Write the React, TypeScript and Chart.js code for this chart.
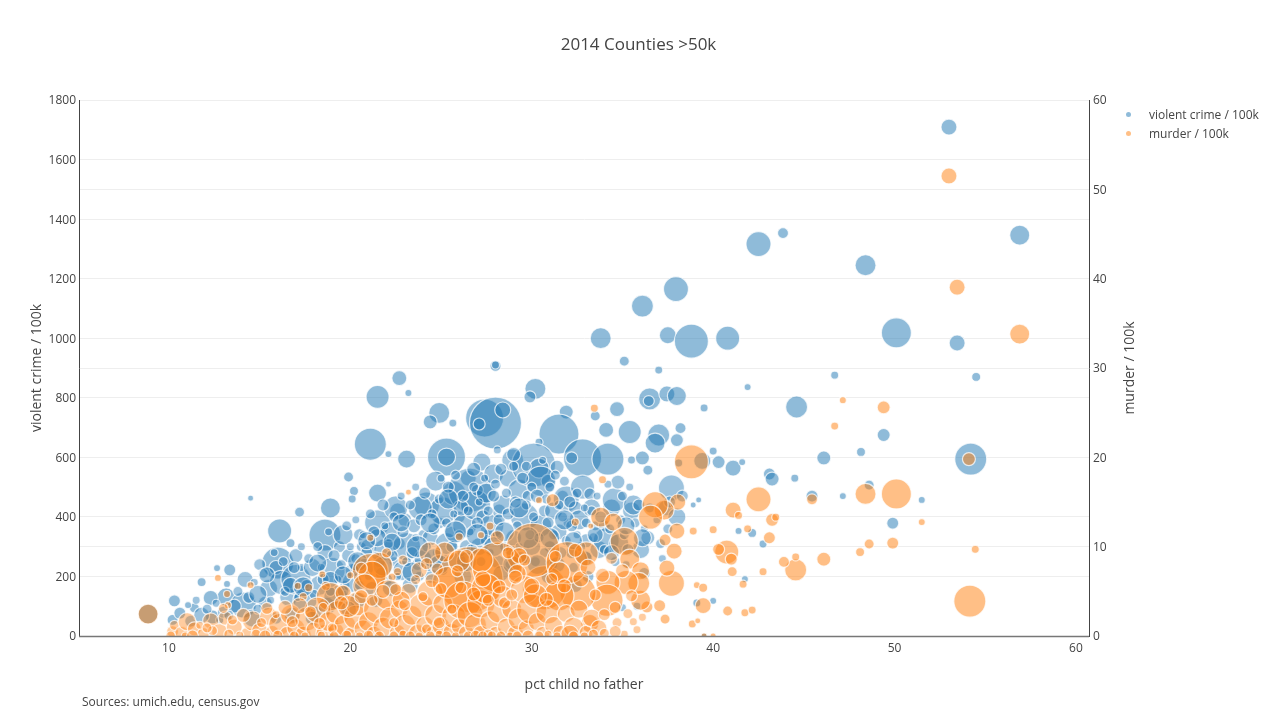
import React, { useEffect, useRef } from "react";
import { Chart, registerables } from "chart.js";

Chart.register(...registerables);

const chartTitle = "2014 Counties >50k";
const xTitle = "pct child no father";
const leftTitle = "violent crime / 100k";
const rightTitle = "murder / 100k";
const sourceNote = "Sources: umich.edu, census.gov";
const FONT = "'Open Sans', sans-serif";

// [pct child no father, violent crime per 100k, bubble size]
const violentOutliers = [
  [8.85,74,10],[53,1709,8],[56.9,1346,10],[43.85,1353,5.5],[42.5,1316,12.5],[48.4,1245,10.5],[37.95,1165,12.5],[36.1,1108,11],
  [33.8,1000,10.5],[37.5,1010,8.5],[38.8,990,17],[40.8,1000,12],[50.1,1018,15],[53.45,984,8],[54.5,870,4.5],[46.7,876,4],
  [41.9,836,3.5],[35.1,923,5],[37,893,4],[28,907,5.5],[28,910,4],[22.7,866,7.5],[21.5,803,11.5],[23.2,816,3.5],[30.2,830,10.5],
  [29.9,803,6],[36.5,796,11],[37.45,813,8],[38,806,9.5],[36.45,789,5.5],[39.5,766,4],[44.6,769,11],[34.7,762,7.5],[24.9,749,10.5],
  [24.4,719,7],[25.65,715,4],[27.4,732,19],[28,715,26],[27.1,712,6],[28.4,759,8],[31.9,752,7],[34.1,692,7.5],[33.5,739,5],
  [35.4,685,11.5],[37,675,11],[36.8,648,10],[38.2,698,5.5],[38,658,6.5],[21.1,644,16],[22.1,611,3.5],[23.1,594,9],[25.3,601,19],
  [25.3,601,9],[31.5,678,20],[32.8,598,19],[32.2,598,6],[34.2,594,16],[30.4,651,4],[36.1,598,7],[35.5,591,4],[36.4,557,5],
  [38.1,581,4],[39.4,588,8.5],[40,621,4],[40.3,584,6.5],[41.1,564,8],[41.6,584,3.5],[43.1,544,6],[43.25,527,7],[44.5,530,4],
  [46.1,598,7],[48.15,618,4.5],[49.4,675,6.5],[54.2,594,16],[48.6,507,5],[47.15,470,3.5],[45.45,470,6],[51.5,457,3.5],[49.9,379,6],
  [14.5,463,3],[19.9,534,5],[20.2,487,4.5],[20.1,460,4],[17.2,416,5],[16.1,353,12],[18.6,339,16],[16,245,16],[18.9,430,10],
  [16.7,312,4.5],[21.5,480,9],[10.3,118,6],[11.8,181,4.5],[12.65,228,3.5],[13.35,222,6],[13.2,175,3.5],[13.15,131,9],[12.3,128,7.5],
  [11.4,94,5],[11.05,104,3.5],[14.1,104,13],[10.2,54,5.5],[10.6,77,6],[12.4,64,7],[12.8,54,4],[41.75,191,3.5],[40,118,3.5],
  [39.1,111,4],[42.75,309,4],[42.15,346,4.5],[41.4,353,3.5],[39.2,457,3],[38.9,440,3],[39.5,0,3],
];
const violentCloud = [
  [11.2,50,6],[11.8,70,8],[13,80,6],[13.6,100,7],[14.2,190,8],[14.6,60,9],[15,240,6],[15.3,110,7],[15.5,160,9],[15.9,230,7],[16.2,180,12],[16.6,130,9],
  [16.8,70,8],[17,270,7],[17,190,15],[17.3,230,4],[17.5,120,12],[17.9,230,9],[18.1,80,6],[18.3,170,10],[18.6,280,8],[18.7,100,9],[19,220,13],[19.2,130,12],
  [19.4,300,6],[19.6,340,10],[19.7,170,5],[19.9,270,7],[20.1,180,10],[20.2,230,4],[20.4,120,8],[20.6,300,5],[20.8,230,9],[21,300,8],[21.2,160,7],[21.5,380,13],
  [21.6,250,6],[21.9,290,11],[22,190,6],[22.2,350,10],[22.4,250,5],[22.6,420,8],[22.7,310,6],[22.9,220,10],[23,390,7],[23.1,300,14],[23.3,170,8],[23.5,370,7],
  [23.7,240,6],[24,260,9],[24,340,5],[24.2,440,13],[24.4,330,8],[24.5,200,7],[24.7,520,10],[24.9,380,6],[25.1,420,14],[25.2,260,5],[25.3,310,11],
  [25.5,350,6],[25.7,480,12],[25.9,250,9],[26,400,6],[26.3,370,12],[26.4,300,7],[26.5,530,8],[26.6,490,22],[26.9,440,15],[27,490,6],[27.1,300,9],[27.3,400,7],
  [27.25,584,9],[27.5,480,10],[27.6,340,6],[27.8,370,12],[27.9,544,10],[28.1,250,7],[28.2,420,7],[28.4,440,10],[28.7,530,9],[28.8,290,6],[28.95,591,11],[29,330,8],
  [29.3,490,11],[29.4,260,7],[29.6,400,14],[29.8,470,6],[30,300,9],[30.1,574,22],[30.4,564,10],[30.5,370,11],[30.7,420,6],[30.9,520,7],[31,300,6],
  [31.2,420,9],[31.4,567,7],[31.5,350,8],[31.7,470,6],[31.9,460,13],[32,380,5],[32.2,280,6],[32.4,430,7],[32.6,390,10],[32.8,500,12],[33,320,7],[33.2,477,6],
  [33.3,430,9],[33.5,370,5],[33.7,290,9],[34,370,6],[34.1,320,13],[34.4,430,9],[34.55,457,12],[34.75,517,7],[34.8,310,10],[35.2,240,4],[35.5,420,9],[35.6,440,10],
  [36,290,9],[36.4,330,7],[37.2,260,4],[37.7,497,13],[37.4,430,8],[38,400,9],[38.3,470,6],[35.8,100,4],[35,95,4],[36.2,210,6],[22.5,430,12],[23.85,430,12],
  [21.5,330,9],[20.5,340,6],[22.1,510,3],[26.1,430,8],[26.8,560,7],[28.1,625,4],[29,610,7],[29.7,570,5],[30.5,520,15],[33.3,420,5],[35.3,290,6],
];
const violentDense = [
  [11.5,120,4],[12.1,90,5],[12.6,110,4],[13.3,70,5],[13.8,150,5],[14.4,130,6],[14.7,180,4],[14.9,90,5],[15.2,210,5],[15.6,120,4],[15.8,280,4],[16.3,250,5],
  [16.4,150,5],[16.9,230,6],[17.1,130,4],[17.3,300,4],[17.6,170,6],[17.7,260,5],[18,140,5],[18.2,300,5],[18.4,230,4],[18.5,190,6],[18.8,350,4],[18.9,150,5],
  [19.1,270,6],[19.3,190,4],[19.5,240,5],[19.6,150,6],[19.8,370,5],[20,300,4],[20.1,220,7],[20.3,390,4],[20.3,260,5],[20.5,170,5],[20.7,340,4],[20.9,280,6],
  [21,200,4],[21.1,410,5],[21.3,350,6],[21.4,270,4],[21.7,210,6],[21.8,440,6],[21.9,370,4],[22.1,310,5],[22.3,270,6],[22.4,400,5],[22.6,200,4],[22.8,470,4],
  [22.9,350,6],[23.1,250,5],[23.3,440,5],[23.4,280,6],[23.6,500,4],[23.6,330,4],[23.8,200,5],[23.9,390,6],[24.1,480,6],[24.2,300,5],[24.3,230,4],[24.5,410,5],
  [24.6,360,6],[24.8,280,5],[24.9,460,5],[25,530,4],[25.1,220,5],[25.3,380,5],[25.4,500,6],[25.6,300,6],[25.7,410,4],[25.8,540,5],[26,340,5],[26.1,280,4],
  [26.2,470,6],[26.3,230,5],[26.5,420,5],[26.6,350,4],[26.7,290,6],[26.8,500,5],[27,380,6],[27.1,450,4],[27.2,250,5],[27.4,530,4],[27.5,320,6],[27.6,420,5],
  [27.7,280,4],[27.9,470,6],[28,510,5],[28.1,340,5],[28.2,390,6],[28.3,560,6],[28.5,300,5],[28.6,480,5],[28.7,410,6],[28.8,240,5],[29,570,5],[29.1,450,6],
  [29.2,370,5],[29.3,300,4],[29.5,530,6],[29.6,260,5],[29.7,440,5],[29.9,340,5],[30,500,5],[30.1,400,5],[30.2,250,5],[30.3,470,7],[30.4,330,5],[30.6,590,4],
  [30.7,280,5],[30.8,460,5],[30.9,380,6],[31,500,5],[31.1,240,6],[31.2,340,5],[31.3,540,5],[31.5,440,5],[31.6,280,6],[31.7,400,5],[31.8,520,5],[31.9,320,5],
  [32.1,450,6],[32.2,370,6],[32.3,230,5],[32.5,340,4],[32.5,480,5],[32.7,300,5],[32.9,430,4],[33,380,5],[33.1,270,4],[33.4,330,5],[33.6,470,4],[33.8,400,6],
  [34,290,5],[34.2,510,4],[34.3,360,5],[34.6,250,5],[34.9,390,5],[35,470,5],[35.1,340,5],[35.4,500,4],[35.7,380,5],[35.9,440,6],[36.2,360,4],[36.5,430,5],
  [36.9,390,4],[37.1,310,5],[37.5,360,5],[37.6,450,6],
  [24.6,260,10],[26.2,200,9],[28.3,210,8],[22.2,160,8],[19.9,90,8],[21.4,120,7],[30.9,200,7],[33.1,200,6],[32.4,170,7],[17.9,60,7],[15.9,60,6],
];
const violentGapFill = [
  [14.9,140,9],[15.4,205,8],[16.7,170,8],[17.4,165,10],[18.2,245,9],[18.9,190,8],[19.6,205,9],[20.4,250,10],[20.9,320,9],[21.8,235,10],
  [22.3,315,9],[22.8,380,9],[23.4,215,10],[23.7,300,11],[24.4,380,10],[24.9,240,10],[25.4,460,10],[25.8,350,11],[26.4,250,10],[27,340,11],
  [27.9,300,10],[28.5,350,10],[28.9,240,9],[29.3,430,10],[29.8,330,11],[30.3,240,10],[31,330,10],[31.4,240,8],[31.8,390,10],[32.3,320,9],
  [32.9,260,8],[33.5,340,8],[34.4,280,8],[35.2,370,9],[36.1,330,9],
];

// [pct child no father, murder per 100k, bubble size]
const murderOutliers = [
  [8.85,2.45,10],[53,51.5,8],[53.45,39.05,8],[56.9,33.8,10],[47.15,26.4,3.5],[49.4,25.6,6.5],[46.7,23.5,4],[33.45,25.5,4],[38.8,19.5,17],
  [54.1,19.8,6.5],[50.1,15.9,15],[48.4,15.9,10.5],[42.5,15.3,12.5],[45.45,15.3,5.5],[51.5,12.75,3.5],[48.6,10.3,5],[49.9,10.4,6],[48.1,9.4,4.5],
  [54.45,9.7,4],[46.1,8.6,7],[44.55,7.4,11],[43.9,8.3,5.5],[44.55,8.85,4],[54.15,3.9,16],[41.1,14.1,8],[43.25,13,6.5],[43.45,13.3,4],[43.1,11,6],
  [42.75,7.2,4],[40.75,9.4,12],[40.3,9.7,6],[41,8.6,6],[40,11.9,4],[41.4,13.5,4],[41.9,12,4],[41.05,7.2,5],[41.65,5.8,4],[39.1,5.7,3.5],[39.45,5.4,4.5],
  [39.45,3.4,8],[40.8,2.8,5],[41.75,2.6,4],[42.15,2.9,4],[38.85,1.35,4],[39.15,1.7,3],[39.5,0,3],[40,0,3],[38.05,15,8],[37.3,14.1,10],[36.8,14.7,13],
  [36.55,13.3,12],[38,11.75,8],[37.35,10.75,6],[37.85,9.5,8],[38.9,11.75,4],[37.7,5.9,13],[37.45,7.6,8],[37.35,1.9,5],[37.05,3.4,6],[36.35,3.25,6],
  [36,4,10],[33.8,13.3,10],[34.5,12.75,9],[35.1,10.6,14],[35.4,8.6,10],[36,7.3,9],[35.9,5.9,11],[35.2,6,12],[34.2,6,12],[34.15,4,16],[32.55,4.8,18],
  [33.2,1.4,9],[30.7,5.4,22],[31.5,4.5,15],[30.05,9.6,27],[26.6,6.3,33],[28.1,7.7,25],[31.95,8.2,21],[21.1,7.2,18],[31.15,15.2,6.5],[30.4,15.2,3.5],
  [32.4,12.75,4],[27.7,12.3,4],[23.2,16.1,3],[21.1,11,3.5],[26,11.1,4],[28.1,11,7],[27.2,11.3,3.5],[33.25,12.3,3],[33.9,17.5,4],[12.7,6.5,3.5],[13.2,4.7,3.5],
  [13.25,3.45,3.5],[14.5,5.7,3.5],[17.1,5.6,3.5],[17.7,5.4,4],[17.4,4.4,4],[18.45,6.9,3.5],[18.65,5.6,4.5],[20,6.8,3.5],[21.6,7.9,13],[22,9.3,5],
  [22.3,6.6,4],[22.6,7.2,4],[21.2,6.8,14],[18.9,4.4,14],[19.6,4.8,8],[25.2,9.4,10],[24.8,7.5,6],[29.3,9,8],[33,9.2,12],[32.4,9.6,7],
];
const murderCloud = [
  [10.2,0.5,6],[10.3,1.2,5],[10.7,0.3,7],[11,1.6,9],[11.4,0.8,7],[11.9,0.3,6],[12.3,1.7,8],[12.8,0.5,8],[13.1,2,7],[13.6,1,8],[14.3,0.3,6],[14.6,1.7,10],
  [15,0.6,8],[15.5,2.2,9],[15.7,0.4,7],[16.1,1.3,11],[16.5,0.3,7],[16.7,2.4,10],[17,0.9,9],[17.4,0.2,8],[17.6,1.9,12],[18,0.7,8],[18.2,2.9,13],[18.6,0.3,9],
  [18.8,1.6,10],[19.2,0.6,8],[19.3,2.6,12],[19.7,1.2,11],[20,0.2,7],[20.3,2.1,12],[20.4,3.6,12],[20.7,0.8,9],[21,1.6,10],[21.3,0.2,8],[21.5,3,14],[21.8,1,10],
  [22.1,4.6,15],[22.2,2,11],[22.6,0.4,8],[22.7,3,9],[23,1.2,11],[23.2,5,8],[23.4,2.3,10],[23.7,0.3,9],[23.9,3.4,12],[24.1,1.2,9],[24.4,4.8,13],[24.6,0.3,8],
  [24.7,2.3,11],[25,1.1,9],[25.1,3.6,10],[25.4,6,16],[25.6,0.4,9],[25.7,2.2,12],[26,1.1,8],[26.2,4,19],[26.4,0.3,8],[26.6,2.4,13],[26.9,1.3,11],[27.2,0.3,8],
  [27.2,3.6,14],[27.5,5.3,15],[27.7,1.7,10],[28,0.3,7],[28.2,2.8,12],[28.4,4.4,11],[28.6,1,9],[28.9,3,10],[29.1,0.3,8],[29.3,1.9,11],[29.6,5.2,14],[29.7,0.9,8],
  [30,3,15],[30.3,1.6,9],[30.6,0.3,7],[30.9,2.7,12],[31.2,1.2,9],[31.5,7.1,11],[31.6,0.3,8],[31.9,2.5,9],[32.3,1,10],[32.6,3,9],[33,0.4,7],[33.3,2,9],
  [33.7,0.9,8],[34,2.4,6],[34.7,1.5,5],[35.1,0.2,4],[35.6,1.6,4],[34.6,0.5,6],[32.1,0.2,9],[29.2,7,9],[27.2,8.5,12],[26,8.4,11],[24.4,9.3,11],[23.8,7.4,8],
  [22.8,4,9],[20.8,5.6,12],[19.9,3.3,11],[17.2,3.4,8],[16.4,3.2,7],[15.4,3.1,6],[14.1,2.3,7],[13,3.1,5],[12.4,0.6,5],[24.9,1.5,6],[27.6,0.2,5],[30.2,4.5,12],
];
const murderDense = [
  [10.1,0,5],[10.9,0,4],[11.3,0,6],[11.7,1.2,4],[12.1,0.9,5],[13.3,0.2,5],[13.5,1.8,5],[13.9,0.1,4],[14.8,0.2,5],[15.1,1.5,5],
  [15.3,0,6],[15.9,2.4,4],[16,0.1,5],[16.8,1.6,6],[16.9,0,5],[17.5,0,4],[17.8,2.7,6],[18.3,1.4,6],[18.4,0.1,4],
  [18.5,3.2,5],[19,0.9,5],[19.1,0,5],[19.5,3.7,7],[19.8,0.1,5],[20.5,0,4],[20.6,4.4,7],
  [21,0.1,5],[21.2,4,6],[21.6,0,5],[21.8,5,7],[22.4,0,5],[22.4,1.5,5],
  [22.5,5.2,6],[22.9,0.2,4],[23,3.5,6],[23.3,0,5],[23.6,6.3,5],[23.8,0,4],[24,4.4,5],
  [24.2,0.8,5],[24.4,0,5],[24.5,6.2,7],[24.9,0.2,4],[25,5.3,6],[25.3,0,5],
  [25.6,3,5],[25.8,0,4],[25.9,7.3,6],[26.1,5.4,6],[26.5,0,5],[26.8,4.7,7],[26.9,0.1,5],
  [27.3,6.4,8],[27.3,0,5],[27.6,4,6],[27.8,0,5],[28.2,5.5,7],[28.3,0,5],
  [28.5,3.7,6],[28.8,0,4],[28.9,4.6,6],[29.1,6.6,7],[29.2,0,5],[29.8,0,6],
  [30,5.6,8],[30.4,0,5],[30.8,4.1,7],[30.9,0.2,4],[31.1,6.4,6],[31.4,0,4],
  [31.8,5.6,7],[32.3,0,5],[32.7,6.4,8],[32.9,0,4],[33.4,0.2,5],
  [33.5,4.6,6],[33.9,6.8,7],[34,0.3,5],[34.4,8.7,6],[34.6,3.2,6],[35,7.3,7],[35.3,2.5,5],[35.5,4.5,6],[35.8,0.7,4],[36.1,2.1,4],
  [33.1,7.7,8],[31.3,8.9,6],[29.6,8.5,6],[26.4,8.9,7],[28.7,9.3,6],[24.2,8.1,6],[22.9,8.5,5],[20.6,7.6,6],
];

const violentPoints = [...violentOutliers, ...violentCloud, ...violentDense, ...violentGapFill];
const murderPoints = [...murderOutliers, ...murderCloud, ...murderDense];
const toBubble = (p: number[]) => ({ x: p[0], y: p[1], r: p[2] });

const TEXT = "#444";
const GRID = "#eee";
const BLUE = "rgba(31,119,180,0.5)";
const BLUE_CLOUD = "rgba(31,119,180,0.44)";
const ORANGE = "rgba(255,127,14,0.5)";
const ORANGE_CLOUD = "rgba(255,127,14,0.4)";
const RING = "rgba(255,255,255,0.75)";
const plainTick = (v: any) => String(v);

// Points in the crowded part of the chart are painted a little lighter, since they overlap heavily.
const fills = (solid: number, crowded: number, base: string, light: string) => [
  ...Array(solid).fill(base),
  ...Array(crowded).fill(light),
];

export default function App() {
  const ref = useRef<HTMLCanvasElement>(null);
  useEffect(() => {
    const chart = new Chart(ref.current as HTMLCanvasElement, {
      type: "bubble",
      data: {
        datasets: [
          {
            label: leftTitle,
            data: violentPoints.map(toBubble),
            backgroundColor: fills(violentOutliers.length, violentPoints.length - violentOutliers.length, BLUE, BLUE_CLOUD),
            borderColor: RING,
            borderWidth: 1.2,
            yAxisID: "y",
            order: 2,
          },
          {
            label: rightTitle,
            data: murderPoints.map(toBubble),
            backgroundColor: fills(murderOutliers.length, murderPoints.length - murderOutliers.length, ORANGE, ORANGE_CLOUD),
            borderColor: RING,
            borderWidth: 1.2,
            yAxisID: "y2",
            order: 1,
          },
        ],
      },
      options: {
        responsive: false,
        animation: false,
        layout: { padding: 0 },
        plugins: {
          legend: { display: false },
          tooltip: { enabled: false },
          title: {
            display: true,
            text: chartTitle,
            color: TEXT,
            font: { family: FONT, size: 17, weight: "normal" },
            padding: { top: 35, bottom: 44.6 },
          },
        },
        scales: {
          x: {
            type: "linear",
            min: 5.04,
            max: 60.72,
            afterFit: (s: any) => { s.height = 81; },
            ticks: { stepSize: 10, includeBounds: false, color: TEXT, font: { family: FONT, size: 12 }, padding: 5, maxRotation: 0 },
            grid: { display: false, drawTicks: false },
            border: { display: false },
            title: { display: true, text: xTitle, color: TEXT, font: { family: FONT, size: 14 }, padding: { top: 0, bottom: 24 } },
          },
          y: {
            type: "linear",
            position: "left",
            min: 0,
            max: 1800,
            afterFit: (s: any) => { s.width = 79; },
            ticks: { stepSize: 200, callback: plainTick, color: TEXT, font: { family: FONT, size: 12 }, padding: 3, labelOffset: 1 },
            grid: { color: GRID, drawTicks: false },
            border: { display: true, color: TEXT, width: 1 },
            title: { display: true, text: leftTitle, color: TEXT, font: { family: FONT, size: 14 }, padding: { top: 29, bottom: 0 } },
          },
          y2: {
            type: "linear",
            position: "right",
            min: 0,
            max: 60,
            afterFit: (s: any) => { s.width = 188; },
            ticks: { stepSize: 10, callback: plainTick, color: TEXT, font: { family: FONT, size: 12 }, padding: 4, labelOffset: 1 },
            grid: { color: GRID, drawTicks: false },
            border: { display: true, color: TEXT, width: 1 },
          },
        },
      },
      plugins: [
        {
          id: "frame",
          afterDraw(c: any) {
            const { ctx, chartArea } = c;
            ctx.save();
            ctx.strokeStyle = "#777";
            ctx.lineWidth = 1.5;
            ctx.beginPath();
            ctx.moveTo(chartArea.left, chartArea.bottom + 0.5);
            ctx.lineTo(chartArea.right, chartArea.bottom + 0.5);
            ctx.stroke();
            ctx.translate(1130, 368);
            ctx.rotate(-Math.PI / 2);
            ctx.fillStyle = TEXT;
            ctx.font = `14px ${FONT}`;
            ctx.textAlign = "center";
            ctx.textBaseline = "middle";
            ctx.fillText(rightTitle, 0, 0);
            ctx.restore();
          },
        },
      ],
    } as any);
    return () => chart.destroy();
  }, []);

  const legendRow = (label: string, color: string, top: number) => (
    <div style={{ position: "absolute", left: 1126, top, height: 18, display: "flex", alignItems: "center", font: `12px ${FONT}`, color: TEXT, whiteSpace: "nowrap" }}>
      <span style={{ width: 5, height: 5, borderRadius: "50%", background: color, marginRight: 18 }} />
      {label}
    </div>
  );

  return (
    <div style={{ position: "fixed", left: 0, top: 0, width: 1277, height: 717, overflow: "hidden", background: "#fff" }}>
      <canvas ref={ref} width={1277} height={717} style={{ position: "absolute", left: 0, top: 0, display: "block" }} />
      {legendRow(leftTitle, BLUE, 105)}
      {legendRow(rightTitle, ORANGE, 124)}
      <div style={{ position: "absolute", left: 82, top: 693, font: `12px ${FONT}`, color: TEXT, whiteSpace: "nowrap" }}>{sourceNote}</div>
    </div>
  );
}
